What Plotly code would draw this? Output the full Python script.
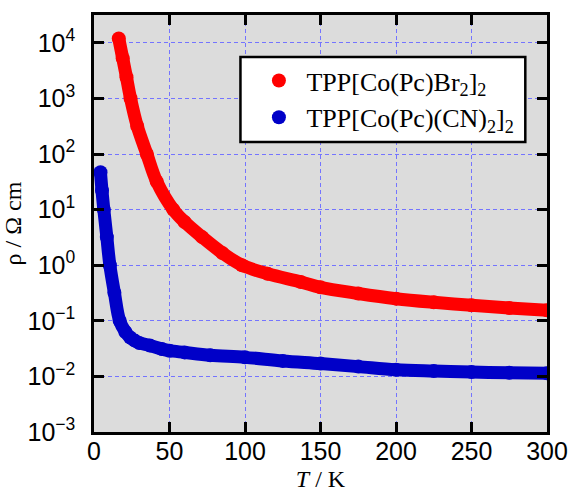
import plotly.graph_objects as go

# Temperature (K) and resistivity (Ohm cm) for the two salts
t_br = [16.4, 19, 21.5, 24.2, 28.6, 35, 41.5, 52.5, 60, 71.6, 85, 98,
        115, 137, 150, 175, 200, 225, 250, 275, 300]
rho_br = [1.2e4, 5.3e3, 2.4e3, 1.0e3, 3.2e2, 1.0e2, 3.2e1, 1.0e1, 6.0,
          3.2, 1.66, 1.0, 0.7, 0.5, 0.40, 0.31, 0.25, 0.215, 0.19, 0.17, 0.155]

t_cn = [4.3, 5.3, 6.5, 8.5, 10.5, 13.5, 17, 20.8, 24, 27, 30, 37, 45, 50, 60,
        77, 100, 125, 150, 175, 200, 225, 250, 275, 300]
rho_cn = [47, 22, 10, 3.2, 1.0, 0.32, 0.1, 0.063, 0.05, 0.044, 0.040, 0.036,
          0.031, 0.029, 0.027, 0.024, 0.022, 0.019, 0.017, 0.015, 0.0132,
          0.0125, 0.0120, 0.0116, 0.0114]

name_br = "TPP[Co(Pc)Br<sub>2</sub>]<sub>2</sub>"
name_cn = "TPP[Co(Pc)(CN)<sub>2</sub>]<sub>2</sub>"

x_ticks = [0, 50, 100, 150, 200, 250, 300]
y_exps = [-3, -2, -1, 0, 1, 2, 3, 4]
y_ticks = [10.0 ** e for e in y_exps]
y_text = ["10<sup>%s</sup>" % (str(e).replace("-", "\u2212")) for e in y_exps]

RED = "#ff0000"
BLUE = "#0000c8"
GRID = "#7474ff"

fig = go.Figure()
for t, r, col, nm in [(t_br, rho_br, RED, name_br), (t_cn, rho_cn, BLUE, name_cn)]:
    fig.add_trace(go.Scatter(x=t, y=r, mode="lines", showlegend=False,
                             line=dict(color=col, width=13, shape="spline"),
                             hoverinfo="skip"))
    fig.add_trace(go.Scatter(x=t, y=r, mode="markers", name=nm,
                             marker=dict(color=col, size=14, line=dict(width=0))))

axis_common = dict(
    showline=True, linecolor="black", linewidth=2.5, mirror="ticks",
    ticks="inside", ticklen=10, tickwidth=2.5, tickcolor="black",
    showgrid=True, gridcolor=GRID, gridwidth=1, griddash="4px,3px",
    zeroline=False, automargin=False,
    tickfont=dict(family="Liberation Sans", size=25, color="black"),
)

fig.update_xaxes(
    range=[0, 300], tickvals=x_ticks, ticklabelstandoff=-5,
    title=dict(text="<i>T</i> / K", standoff=10,
               font=dict(family="Liberation Serif", size=24, color="black")),
    **axis_common)
fig.update_yaxes(
    type="log", range=[-3, 4.5], tickvals=y_ticks, ticktext=y_text,
    ticklabelstandoff=11,
    title=dict(text="\u03c1 / \u03a9 cm", standoff=8,
               font=dict(family="Liberation Serif", size=24, color="black")),
    **axis_common)

# Framed white panel behind the legend entries
fig.add_shape(type="rect", xref="paper", yref="paper",
              x0=0.3233, x1=0.9521, y0=0.6952, y1=0.8992,
              fillcolor="white", line=dict(color="black", width=2.5),
              layer="above")

fig.update_layout(
    width=568, height=492,
    margin=dict(l=94, r=21, t=15, b=60),
    paper_bgcolor="white", plot_bgcolor="#dcdcdc",
    legend=dict(x=0.3475, y=0.899, xanchor="left", yanchor="top",
                bgcolor="rgba(0,0,0,0)", borderwidth=0,
                itemwidth=45,
                font=dict(family="Liberation Serif", size=26, color="black")),
)

fig.write_html("out.html")
